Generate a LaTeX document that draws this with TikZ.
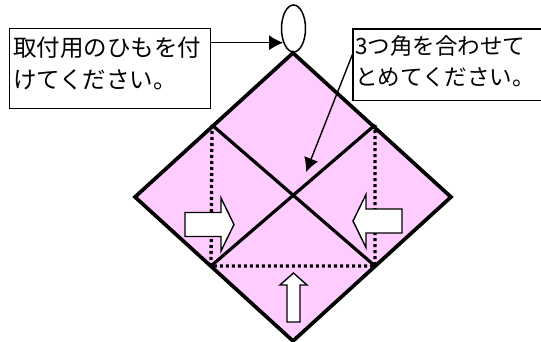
\documentclass[tikz,border=0pt]{standalone}
\usepackage{fontspec}
\newfontfamily\jp{Noto Sans CJK JP}
\usetikzlibrary{arrows.meta,shapes.geometric}
\definecolor{paper}{RGB}{255,204,255}
\tikzset{
  outline/.style={line width=3.7pt, line cap=round},
  fold/.style={line width=3.2pt},
  dotline/.style={line width=3.3pt, dash pattern=on 3pt off 3pt},
  labelbox/.style={line width=1.4pt},
  labeltext/.style={anchor=north west, inner sep=0pt, align=left, font=\jp\fontsize{23.5}{32}\selectfont},
  pointer/.style={line width=1.4pt, -{Latex[length=14pt,width=15pt]}},
  blockarrow/.style={fill=white, draw=black, line width=1.4pt, line join=miter}
}
\begin{document}
\begin{tikzpicture}[x=1pt,y=-1pt]
\useasboundingbox (0,0) rectangle (541,342);
% diamond corners
\coordinate (T) at (293,53);
\coordinate (R) at (451,197);
\coordinate (B) at (293,341);
\coordinate (L) at (135,197);
\coordinate (ul) at (212,125);
\coordinate (ur) at (375,125);
\coordinate (ll) at (211,266);
\coordinate (lr) at (375,266);
\fill[paper] (T) -- (R) -- (B) -- (L) -- cycle;
\draw[dotline] (ul) -- (ll) -- (lr) -- (ur);
\draw[fold] (ul) -- (lr);
\draw[fold] (ur) -- (ll);
\draw[outline, line join=miter] (T) -- (R) -- (B) -- (L) -- cycle;
% loop
\node[ellipse, draw, line width=1.5pt, minimum width=24pt, minimum height=47pt, inner sep=0pt] (loop) at (293.5,28.5) {};
% block arrows
\draw[blockarrow] (185,212.5) -- (221,212.5) -- (221,198) -- (234,224.5) -- (221,251) -- (221,236.5) -- (185,236.5) -- cycle;
\draw[blockarrow] (402,209) -- (366,209) -- (366,194.5) -- (353,221) -- (366,247.5) -- (366,233) -- (402,233) -- cycle;
\draw[blockarrow] (287,322) -- (287,285) -- (280,285) -- (293.5,273) -- (307,285) -- (300,285) -- (300,322) -- cycle;
% label boxes
\node[draw, labelbox, minimum width=201pt, minimum height=80pt, anchor=north west, inner sep=0pt] (box1) at (9,28) {};
\node[labeltext] (text1) at (13,37) {取付用のひもを付\\けてください。};
\node[minimum width=210pt, minimum height=71pt, anchor=north west, inner sep=0pt] (box2) at (353,29) {};
\draw[labelbox] (box2.north east) -- (box2.north west) -- (box2.south west) -- (box2.south east);
\node[labeltext, font=\jp\fontsize{22.5}{31}\selectfont] (text2) at (355,35.5) {3つ角を合わせて\\とめてください。};
% connectors
\coordinate (tip2) at (306,172);
\draw[pointer] (box1.east |- loop.234) -- (loop.234);
\draw[pointer] ([yshift=-24pt]box2.north west) -- (tip2);
\end{tikzpicture}
\end{document}
